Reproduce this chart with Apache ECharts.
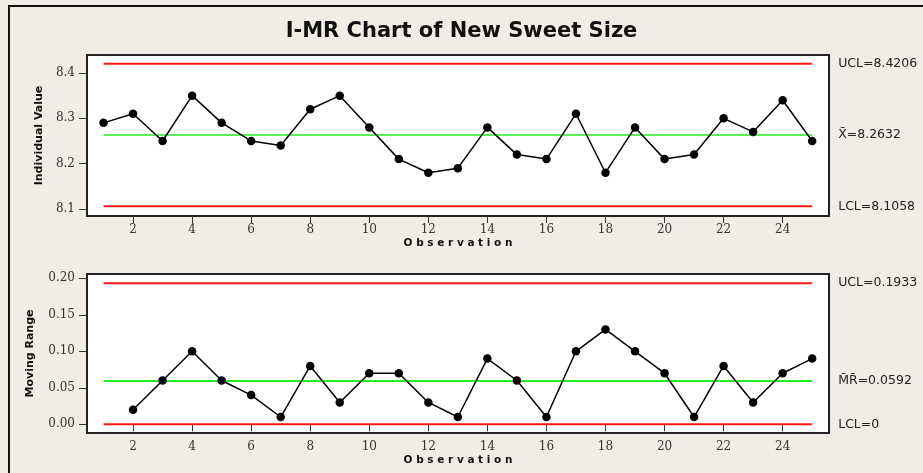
<!DOCTYPE html>
<html>
<head>
<meta charset="utf-8">
<script src="https://cdn.jsdelivr.net/npm/echarts@6/dist/echarts.min.js"></script>
<style>
html,body{margin:0;padding:0;background:#F1EDE6;}
#chart{width:923px;height:473px;}
</style>
</head>
<body>
<div id="chart"></div>
<script>
// ---- data ----
var observations = [1,2,3,4,5,6,7,8,9,10,11,12,13,14,15,16,17,18,19,20,21,22,23,24,25];
var individualValues = [8.29,8.31,8.25,8.35,8.29,8.25,8.24,8.32,8.35,8.28,8.21,8.18,8.19,8.28,8.22,8.21,8.31,8.18,8.28,8.21,8.22,8.30,8.27,8.34,8.25];
var mrObservations = [2,3,4,5,6,7,8,9,10,11,12,13,14,15,16,17,18,19,20,21,22,23,24,25];
var movingRanges = [0.02,0.06,0.10,0.06,0.04,0.01,0.08,0.03,0.07,0.07,0.03,0.01,0.09,0.06,0.01,0.10,0.13,0.10,0.07,0.01,0.08,0.03,0.07,0.09];
var iLimits = {UCL: 8.4206, CL: 8.2632, LCL: 8.1058};
var mrLimits = {UCL: 0.1933, CL: 0.0592, LCL: 0};
var xTicks = [2,4,6,8,10,12,14,16,18,20,22,24];
var iTicks = [8.1,8.2,8.3,8.4];
var mrTicks = [0,0.05,0.10,0.15,0.20];
var iLabels = ['UCL=8.4206', 'X\u0304=8.2632', 'LCL=8.1058'];
var mrLabels = ['UCL=0.1933', 'M\u0304R\u0304=0.0592', 'LCL=0'];

// ---- build ----
function pairs(xs, ys){ return xs.map(function(x,i){ return [x, ys[i]]; }); }
var xFirst = observations[0], xLast = observations[observations.length-1];

var tickFont = {fontFamily:'DejaVu Serif', fontSize:12, color:'#333'};
var nameFont = {fontFamily:'DejaVu Sans', fontWeight:'bold', fontSize:11, color:'#111'};

function xAxisDef(gi){
  return {
    type:'value', gridIndex:gi, min:0.44, max:25.57,
    name:'O b s e r v a t i o n', nameLocation:'middle', nameGap:22,
    nameTextStyle:{fontFamily:'DejaVu Sans', fontWeight:'bold', fontSize:10.5, color:'#111'},
    axisLine:{show:false},
    axisTick:{show:true, length:7, customValues:xTicks, lineStyle:{color:'#333', width:1}},
    axisLabel:Object.assign({customValues:xTicks, margin:8}, tickFont),
    splitLine:{show:false}
  };
}
function yAxisDef(gi, min, max, ticks, dec, name, gap){
  return {
    type:'value', gridIndex:gi, min:min, max:max,
    name:name, nameLocation:'middle', nameGap:gap, nameRotate:90,
    nameTextStyle:nameFont,
    axisLine:{show:false},
    axisTick:{show:true, length:8, customValues:ticks, lineStyle:{color:'#333', width:1}},
    axisLabel:Object.assign({customValues:ticks, margin:12, formatter:function(v){return v.toFixed(dec);}}, tickFont),
    splitLine:{show:false}
  };
}
function limitSeries(gi, val, color, width, label){
  return {
    type:'line', xAxisIndex:gi, yAxisIndex:gi, symbol:'none', silent:true,
    data:[[xFirst, val],[xLast, val]],
    lineStyle:{color:color, width:width},
    endLabel:{show:true, formatter:label, distance:26, fontFamily:'DejaVu Sans', fontSize:12.5, color:'#222'},
    z:2
  };
}
function dataSeries(gi, data){
  return {
    type:'line', xAxisIndex:gi, yAxisIndex:gi, data:data,
    symbol:'circle', symbolSize:8.5, itemStyle:{color:'#000'},
    lineStyle:{color:'#000', width:1.5}, z:5
  };
}

var option = {
  backgroundColor:'#F1EDE6',
  animation:false,
  title:{text:'I-MR Chart of New Sweet Size', left:'center', top:16,
    textStyle:{fontFamily:'DejaVu Sans', fontWeight:'bold', fontSize:21, color:'#111'}},
  graphic:[{type:'rect', shape:{x:9, y:6, width:1000, height:1000},
    style:{fill:'none', stroke:'#111', lineWidth:2}, z:-1}],
  grid:[
    {left:87, top:55, width:742, height:161, show:true, backgroundColor:'#fff', borderColor:'#222', borderWidth:2},
    {left:87, top:274, width:742, height:159, show:true, backgroundColor:'#fff', borderColor:'#222', borderWidth:2}
  ],
  xAxis:[xAxisDef(0), xAxisDef(1)],
  yAxis:[
    yAxisDef(0, 8.0845, 8.4397, iTicks, 1, 'Individual Value', 42),
    yAxisDef(1, -0.0119, 0.2059, mrTicks, 2, 'Moving Range', 51)
  ],
  series:[
    limitSeries(0, iLimits.UCL, '#FF1A1A', 2, iLabels[0]),
    limitSeries(0, iLimits.CL, '#22EE22', 1.5, iLabels[1]),
    limitSeries(0, iLimits.LCL, '#FF1A1A', 2, iLabels[2]),
    dataSeries(0, pairs(observations, individualValues)),
    limitSeries(1, mrLimits.UCL, '#FF1A1A', 2, mrLabels[0]),
    limitSeries(1, mrLimits.CL, '#22EE22', 2, mrLabels[1]),
    limitSeries(1, mrLimits.LCL, '#FF1A1A', 2, mrLabels[2]),
    dataSeries(1, pairs(mrObservations, movingRanges))
  ]
};
var chart = echarts.init(document.getElementById('chart'), null, {renderer:'canvas'});
chart.setOption(option);
</script>
</body>
</html>
